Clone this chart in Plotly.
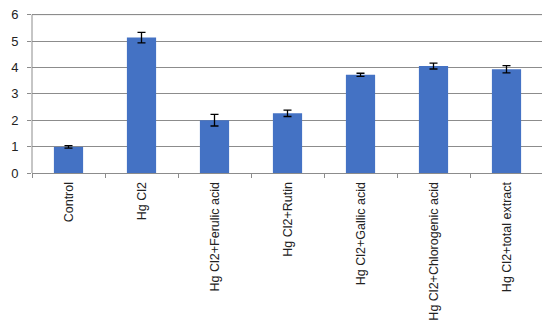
import plotly.graph_objects as go

categories = ["Control", "Hg Cl2", "Hg Cl2+Ferulic acid", "Hg Cl2+Rutin",
              "Hg Cl2+Gallic acid", "Hg Cl2+Chlorogenic acid", "Hg Cl2+total extract"]
values = [0.99, 5.13, 2.0, 2.26, 3.72, 4.05, 3.93]
errors = [0.05, 0.2, 0.22, 0.12, 0.06, 0.11, 0.14]
y_ticks = [0, 1, 2, 3, 4, 5, 6]

fig = go.Figure(go.Bar(
    x=categories, y=values,
    marker=dict(color="#4472C4", line=dict(width=0)),
    error_y=dict(type="data", array=errors, color="#000000", thickness=1.3, width=4),
))

# page body has an 8px margin, so the figure is sized to fit the window
fig.update_layout(
    width=542, height=322,
    margin=dict(l=24, r=7, t=4, b=157),
    plot_bgcolor="white", paper_bgcolor="white",
    bargap=0.6,
    showlegend=False,
    font=dict(family="Liberation Sans", size=12, color="#222222"),
)
fig.update_xaxes(
    type="category", tickangle=-90, automargin=False,
    showline=True, linecolor="#8c8c8c", linewidth=1,
    ticks="outside", tickson="boundaries", ticklen=4, tickcolor="#8c8c8c",
    showgrid=False, tickfont=dict(size=12.5), ticklabelstandoff=3,
    ticklabeloverflow="allow",
)
fig.update_yaxes(
    range=[0, 6.1], tickvals=y_ticks, automargin=False,
    showline=False,
    ticks="outside", ticklen=4, tickcolor="#8c8c8c",
    showgrid=True, gridcolor="#8c8c8c", gridwidth=1,
    zeroline=False, tickfont=dict(size=13), ticklabelstandoff=6,
    ticklabeloverflow="allow",
)
top = max(y_ticks)
# y axis line drawn only from 0 to the top tick, as in the reference
fig.add_shape(type="line", xref="paper", yref="y", x0=0, x1=0, y0=0, y1=top,
              line=dict(color="#8c8c8c", width=1))
# top gridline
fig.add_shape(type="line", xref="paper", yref="y", x0=0, x1=1, y0=top, y1=top,
              line=dict(color="#8c8c8c", width=1), layer="below")

fig.write_html("out.html")
